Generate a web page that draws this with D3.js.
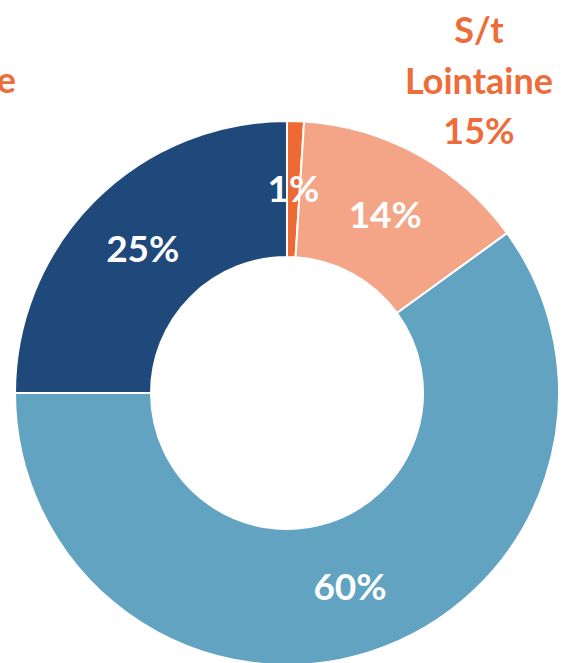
<!DOCTYPE html>
<html>
<head>
<meta charset="utf-8">
<script src="https://cdn.jsdelivr.net/npm/d3@7"></script>
<style>
  html, body { margin: 0; padding: 0; background: #fff; overflow: hidden; }
  svg { display: block; font-family: Lato, 'Open Sans', sans-serif; font-weight: bold; }
</style>
</head>
<body>
<div class="chart"></div>
<script>
const categories = ['S/t Proche', 'S/t Lointaine', 'Autre', 'Local'];
const values = [1, 14, 60, 25];
const labels = ['1%', '14%', '60%', '25%'];
const colors = ['#EE6A35', '#F4A588', '#62A3C2', '#1F487B'];
const outside = ['S/t', 'Lointaine', '15%'];

const width = 570, height = 663;
const cx = 287, cy = 393;
const outerR = 272, innerR = 136;

const svg = d3.select('.chart').append('svg')
    .attr('width', width)
    .attr('height', height);

const g = svg.append('g')
    .attr('transform', `translate(${cx},${cy})`);

const pie = d3.pie().sort(null).value(d => d);
const arc = d3.arc().innerRadius(innerR).outerRadius(outerR);

const arcs = pie(values);

g.selectAll('.slice')
    .data(arcs)
    .enter()
    .append('path')
    .attr('class', 'slice')
    .attr('d', arc)
    .attr('fill', (d, i) => colors[i])
    .attr('stroke', '#fff')
    .attr('stroke-width', 2);

g.selectAll('.lbl')
    .data(arcs)
    .enter()
    .append('text')
    .attr('class', 'lbl')
    .attr('x', d => arc.centroid(d)[0])
    .attr('y', d => arc.centroid(d)[1])
    .attr('dy', '0.36em')
    .attr('text-anchor', 'middle')
    .attr('fill', '#fff')
    .attr('font-size', 37)
    .text((d, i) => labels[i]);

// outside label for S/t Lointaine (1% + 14%)
svg.append('text')
    .attr('text-anchor', 'middle')
    .attr('fill', '#EE6C3A')
    .attr('font-size', 36)
    .selectAll('tspan')
    .data(outside)
    .enter()
    .append('tspan')
    .attr('x', 479)
    .attr('y', (d, i) => 43 + i * 50.5)
    .text(d => d);

// left label, mostly cut off by the edge (as in the original)
svg.append('text')
    .attr('x', 16)
    .attr('y', 93)
    .attr('text-anchor', 'end')
    .attr('fill', '#EE6C3A')
    .attr('font-size', 36)
    .text('e');
</script>
</body>
</html>
